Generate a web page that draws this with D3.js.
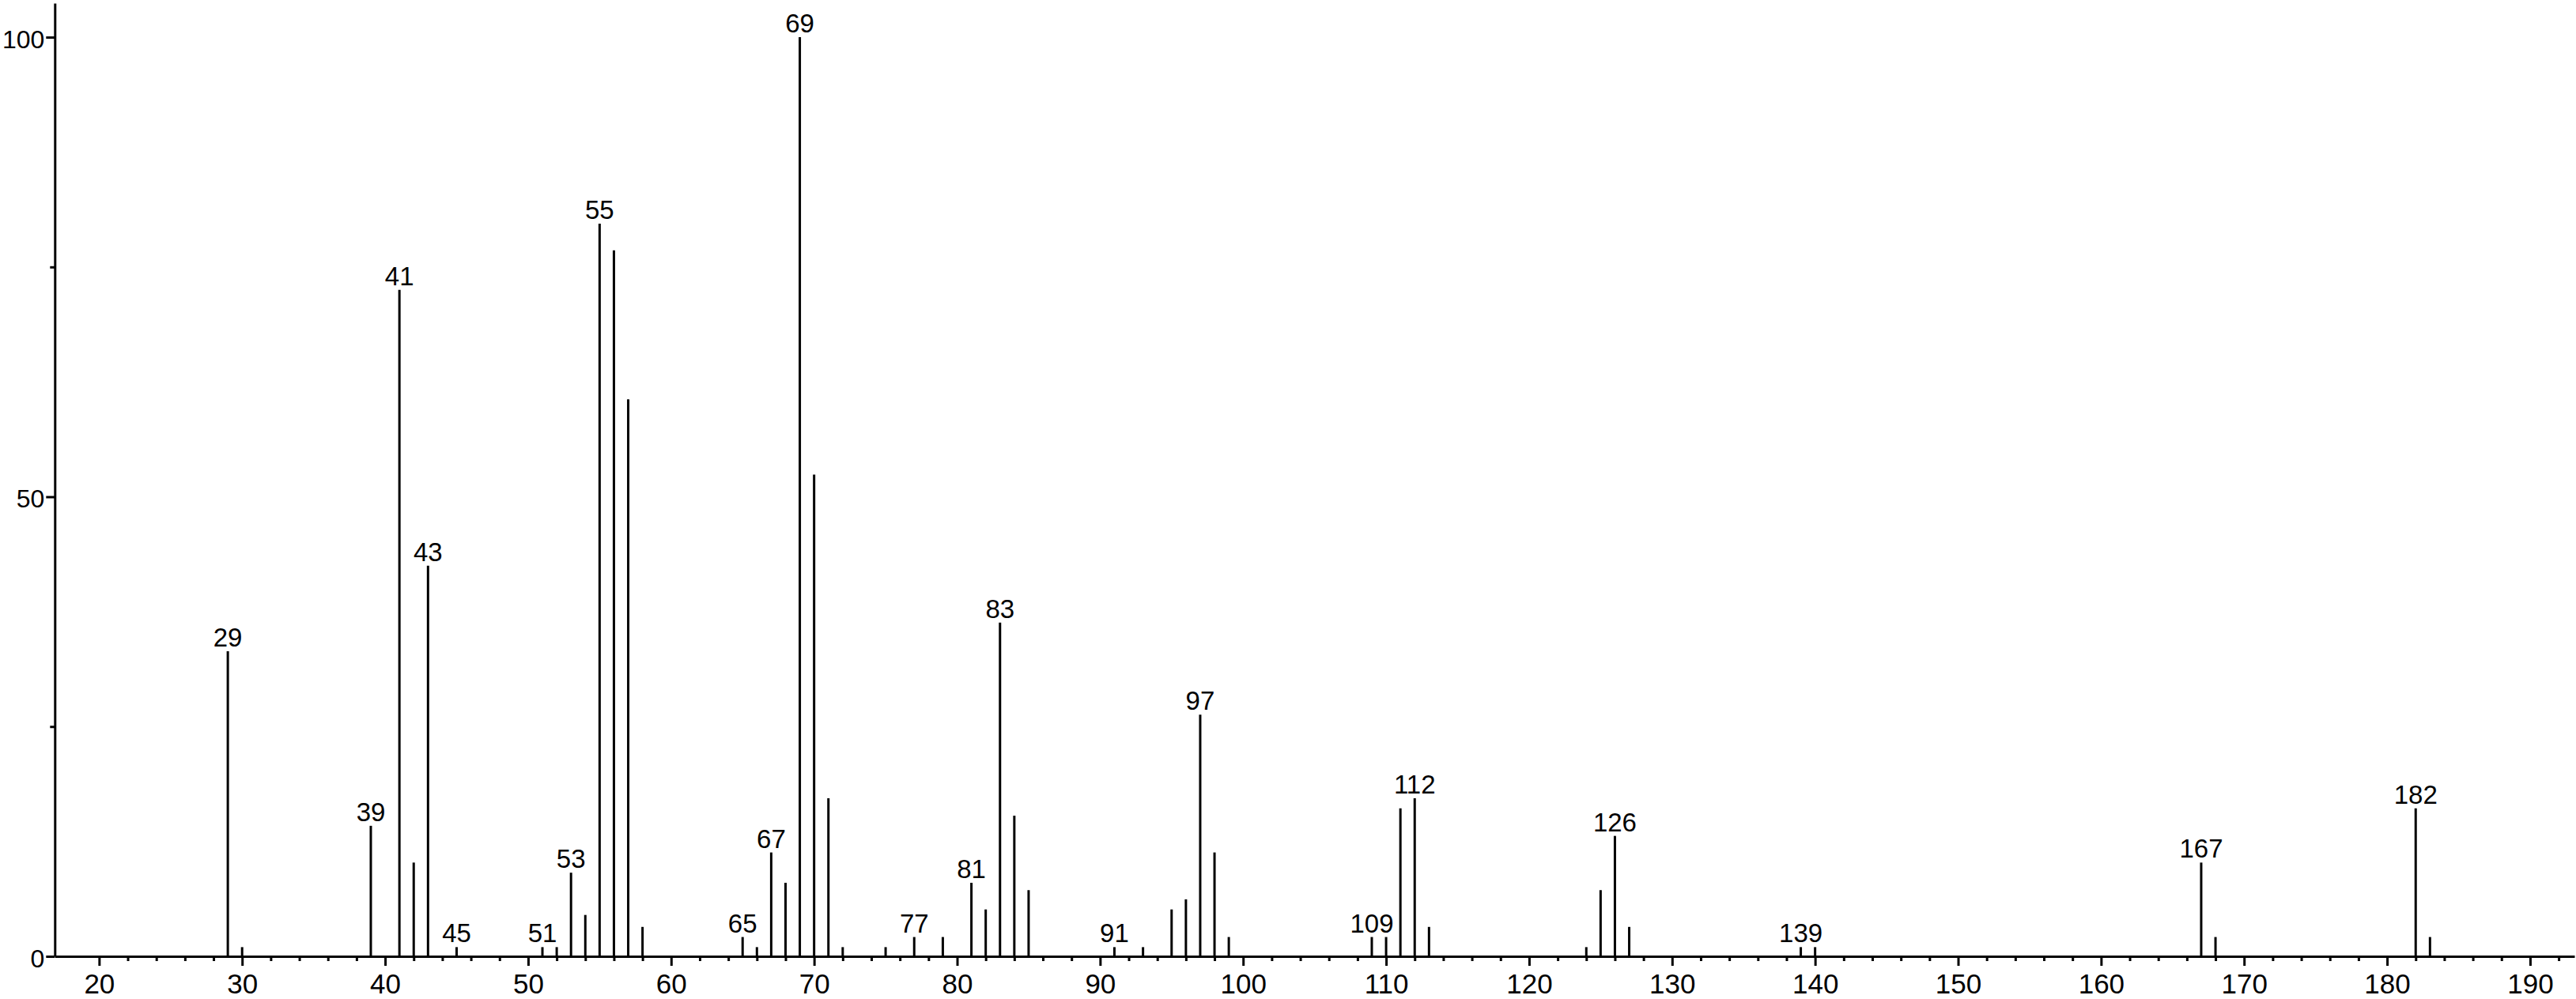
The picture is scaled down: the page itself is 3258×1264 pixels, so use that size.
<!DOCTYPE html>
<html>
<head>
<meta charset="utf-8">
<script src="https://cdn.jsdelivr.net/npm/d3@7"></script>
<style>
  html, body { margin: 0; padding: 0; background: #fff; }
  svg { display: block; }
  text { font-family: "Liberation Sans", Arial, Helvetica, sans-serif; fill: #000; }
</style>
</head>
<body>
<svg id="chart" width="3258" height="1264"></svg>
<script>
// ---- data (m/z and relative intensity) ----
const mz = [29, 30, 39, 41, 42, 43, 45, 51, 52, 53, 54, 55, 56, 57, 58,
            65, 66, 67, 68, 69, 70, 71, 72, 75, 77, 79, 81, 82, 83, 84, 85,
            91, 93, 95, 96, 97, 98, 99, 109, 110, 111, 112, 113,
            124, 125, 126, 127, 139, 140, 167, 168, 182, 183];
const intensity = [33.2, 1.0, 14.2, 72.5, 10.2, 42.5, 1.0, 1.0, 1.0, 9.1, 4.5, 79.7, 76.8, 60.6, 3.2,
                   2.1, 1.0, 11.3, 8.0, 100, 52.4, 17.2, 1.0, 1.0, 2.1, 2.1, 8.0, 5.1, 36.3, 15.3, 7.2,
                   1.0, 1.0, 5.1, 6.2, 26.3, 11.3, 2.1, 2.1, 2.1, 16.1, 17.2, 3.2,
                   1.0, 7.2, 13.1, 3.2, 1.0, 1.0, 10.2, 2.1, 16.1, 2.1];
const labeledPeaks = [29, 39, 41, 43, 45, 51, 53, 55, 65, 67, 69, 77, 81, 83, 91, 97, 109, 112, 126, 139, 167, 182];
const xTickLabels = [20, 30, 40, 50, 60, 70, 80, 90, 100, 110, 120, 130, 140, 150, 160, 170, 180, 190];
const xMinorTicks = d3.range(22, 193, 2).filter(v => v % 10 !== 0);
const yTickLabels = [0, 50, 100];
const yMinorTicks = [25, 75];

const peaks = mz.map((m, i) => ({ m, v: intensity[i] }));

// ---- layout ----
const svg = d3.select("#chart");
const x = d3.scaleLinear().domain([16.9, 193.1]).range([69.3, 3256]);
const y = d3.scaleLinear().domain([0, 103.7]).range([1210, 4]);

const STROKE = 3;

// x axis (major ticks + labels)
const gx = svg.append("g").attr("transform", `translate(0,${y(0)})`)
  .call(d3.axisBottom(x).tickValues(xTickLabels).tickSize(12).tickSizeOuter(0).tickPadding(10).tickFormat(d3.format("d")));
gx.select(".domain").attr("stroke", "#000").attr("stroke-width", STROKE);
gx.selectAll(".tick line").attr("stroke", "#000").attr("stroke-width", STROKE);
gx.selectAll(".tick text").attr("font-size", 35).attr("font-family", '"Liberation Sans", Arial, sans-serif').attr("fill", "#000");

// x minor ticks
const gxm = svg.append("g").attr("transform", `translate(0,${y(0)})`)
  .call(d3.axisBottom(x).tickValues(xMinorTicks).tickSize(6).tickSizeOuter(0).tickFormat(""));
gxm.select(".domain").remove();
gxm.selectAll(".tick line").attr("stroke", "#000").attr("stroke-width", STROKE);

// y axis
const gy = svg.append("g").attr("transform", `translate(${x(16.9)},0)`)
  .call(d3.axisLeft(y).tickValues(yTickLabels).tickSize(11).tickSizeOuter(0).tickPadding(2).tickFormat(d3.format("d")));
gy.select(".domain").attr("stroke", "#000").attr("stroke-width", STROKE);
gy.selectAll(".tick line").attr("stroke", "#000").attr("stroke-width", STROKE);
gy.selectAll(".tick text").attr("font-size", 32).attr("dy", "0.42em")
  .attr("font-family", '"Liberation Sans", Arial, sans-serif').attr("fill", "#000");

// y minor ticks
const gym = svg.append("g").attr("transform", `translate(${x(16.9)},0)`)
  .call(d3.axisLeft(y).tickValues(yMinorTicks).tickSize(6).tickSizeOuter(0).tickFormat(""));
gym.select(".domain").remove();
gym.selectAll(".tick line").attr("stroke", "#000").attr("stroke-width", STROKE);

// peaks
svg.append("g").selectAll("line").data(peaks).join("line")
  .attr("x1", d => x(d.m)).attr("x2", d => x(d.m))
  .attr("y1", y(0)).attr("y2", d => y(d.v))
  .attr("stroke", "#000").attr("stroke-width", STROKE);

// peak labels
svg.append("g").selectAll("text").data(peaks.filter(d => labeledPeaks.includes(d.m))).join("text")
  .attr("x", d => x(d.m)).attr("y", d => y(d.v) - 6)
  .attr("text-anchor", "middle").attr("font-size", 33)
  .text(d => d.m);
</script>
</body>
</html>
